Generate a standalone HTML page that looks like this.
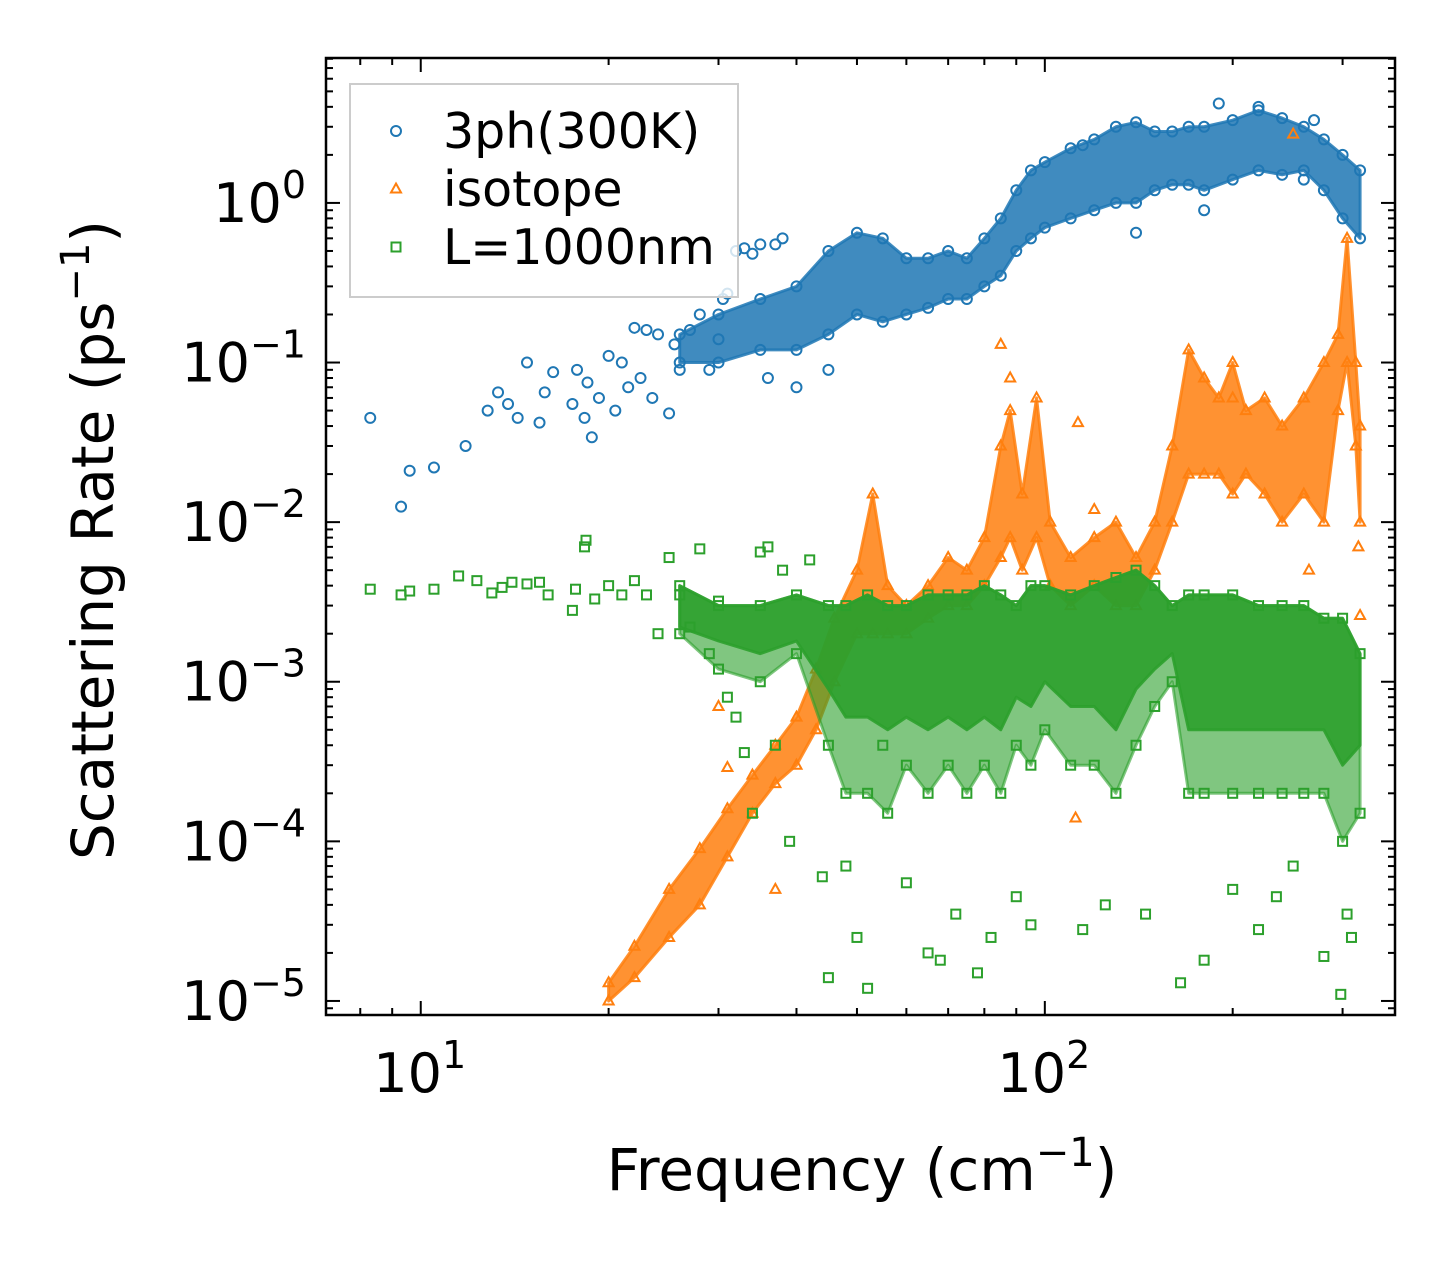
<!DOCTYPE html>
<html><head><meta charset="utf-8"><style>
html,body{margin:0;padding:0;background:#fff}
svg{display:block;font-family:"DejaVu Sans","Liberation Sans",sans-serif}
</style></head><body>
<svg id="chart" width="1455" height="1265" viewBox="0 0 1455 1265" xmlns="http://www.w3.org/2000/svg">
<rect width="1455" height="1265" fill="#fff"/>
<g id="plot"></g>
<g id="axes"></g>
</svg>
<script>
// ---- data ----
const ph3Freq=[8.3,9.3,9.6,10.5,11.8,12.8,13.3,13.8,14.3,14.8,15.5,15.8,16.3,17.5,17.8,18.3,18.5,18.8,19.3,20,20.5,21,21.5,22,22.5,23,23.5,24,25,25.5,26,27,28,29,30,30.5,31,32,33,34,35,36,37,38,40,45,115,140,180,190,220,270,260];
const ph3Rate=[0.045,0.0125,0.021,0.022,0.03,0.05,0.065,0.055,0.045,0.1,0.042,0.065,0.087,0.055,0.09,0.045,0.075,0.034,0.06,0.11,0.05,0.1,0.07,0.165,0.08,0.16,0.06,0.15,0.048,0.13,0.09,0.16,0.2,0.09,0.14,0.25,0.27,0.5,0.52,0.48,0.55,0.08,0.55,0.6,0.07,0.09,2.3,0.65,0.9,4.2,4.0,3.3,1.4];
const ph3BandFreq=[26,30,35,40,45,50,55,60,65,70,75,80,85,90,95,100,110,120,130,140,150,160,170,180,200,220,240,260,280,300,320];
const ph3BandLo=[0.1,0.1,0.12,0.12,0.15,0.2,0.18,0.2,0.22,0.25,0.25,0.3,0.35,0.5,0.6,0.7,0.8,0.9,1.0,1.0,1.2,1.3,1.3,1.2,1.4,1.6,1.5,1.6,1.2,0.8,0.6];
const ph3BandHi=[0.15,0.2,0.25,0.3,0.5,0.65,0.6,0.45,0.45,0.5,0.45,0.6,0.8,1.2,1.6,1.8,2.2,2.5,3.0,3.2,2.8,2.8,3.0,3.0,3.3,3.8,3.4,3.0,2.5,2.0,1.6];

const isoFreq=[30,31,37,85,88,113,120,112,250,320,318,265,200];
const isoRate=[7e-4,2.9e-4,5e-5,0.13,0.08,0.042,0.012,1.4e-4,2.7,2.6e-3,7e-3,5e-3,6e-2];
const isoBandFreq=[20,22,25,28,31,34,37,40,43,46,50,53,56,60,65,70,75,80,85,88,92,97,102,110,120,130,140,150,160,170,180,190,200,210,225,240,260,280,295,305,315,320];
const isoBandLo=[1e-5,1.4e-5,2.5e-5,4e-5,8e-5,1.5e-4,2.3e-4,3e-4,5e-4,1e-3,2e-3,2e-3,2e-3,2e-3,2.5e-3,3e-3,3e-3,4e-3,6e-3,8e-3,5e-3,8e-3,4e-3,3e-3,4e-3,3e-3,3e-3,5e-3,1e-2,2e-2,2e-2,2e-2,1.5e-2,2e-2,1.5e-2,1e-2,1.5e-2,1e-2,5e-2,1e-1,3e-2,1e-2];
const isoBandHi=[1.3e-5,2.2e-5,5e-5,9e-5,1.6e-4,2.6e-4,4e-4,6e-4,1.2e-3,2.5e-3,5e-3,1.5e-2,4e-3,3e-3,4e-3,6e-3,5e-3,8e-3,3e-2,5e-2,1.5e-2,6e-2,1e-2,6e-3,8e-3,1e-2,6e-3,1e-2,3e-2,1.2e-1,8e-2,6e-2,1e-1,5e-2,6e-2,4e-2,6e-2,1e-1,1.5e-1,6e-1,1e-1,4e-2];

const bndFreq=[8.3,9.3,9.6,10.5,11.5,12.3,13,13.5,14,14.8,15.5,16,17.5,17.7,18.3,18.4,19,20,21,22,23,24,25,26,27,28,29,30,31,32,33,34,35,36,37,38,39,42,44,45,48,50,52,55,60,65,68,72,78,82,90,95,115,125,145,165,180,200,220,235,250,280,298,305,310];
const bndRate=[3.8e-3,3.5e-3,3.7e-3,3.8e-3,4.6e-3,4.3e-3,3.6e-3,3.9e-3,4.2e-3,4.1e-3,4.2e-3,3.5e-3,2.8e-3,3.8e-3,7e-3,7.7e-3,3.3e-3,4e-3,3.5e-3,4.3e-3,3.5e-3,2e-3,6e-3,3.5e-3,2.2e-3,6.8e-3,1.5e-3,3.2e-3,8e-4,6e-4,3.6e-4,1.5e-4,6.5e-3,7e-3,4e-4,5e-3,1e-4,5.8e-3,6e-5,1.4e-5,7e-5,2.5e-5,1.2e-5,4e-4,5.5e-5,2e-5,1.8e-5,3.5e-5,1.5e-5,2.5e-5,4.5e-5,3e-5,2.8e-5,4e-5,3.5e-5,1.3e-5,1.8e-5,5e-5,2.8e-5,4.5e-5,7e-5,1.9e-5,1.1e-5,3.5e-5,2.5e-5];
const bndBandFreq=[26,30,35,40,45,48,52,56,60,65,70,75,80,85,90,95,100,110,120,130,140,150,160,170,180,200,220,240,260,280,300,320];
const bndBandLo=[2e-3,1.2e-3,1e-3,1.5e-3,4e-4,2e-4,2e-4,1.5e-4,3e-4,2e-4,3e-4,2e-4,3e-4,2e-4,4e-4,3e-4,5e-4,3e-4,3e-4,2e-4,4e-4,7e-4,1e-3,2e-4,2e-4,2e-4,2e-4,2e-4,2e-4,2e-4,1e-4,1.5e-4];
const bndCoreLo=[2.2e-3,1.8e-3,1.5e-3,1.8e-3,9e-4,6e-4,6e-4,5e-4,6e-4,5e-4,6e-4,5e-4,6e-4,5e-4,8e-4,7e-4,1e-3,7e-4,7e-4,5e-4,9e-4,1.2e-3,1.5e-3,5e-4,5e-4,5e-4,5e-4,5e-4,5e-4,5e-4,3e-4,4e-4];
const bndBandHi=[4e-3,3e-3,3e-3,3.5e-3,3e-3,3e-3,3.5e-3,3e-3,3e-3,3.5e-3,3.5e-3,3.5e-3,4e-3,3.5e-3,3e-3,4e-3,4e-3,3.5e-3,4e-3,4.5e-3,5e-3,4e-3,3e-3,3.5e-3,3.5e-3,3.5e-3,3e-3,3e-3,3e-3,2.5e-3,2.5e-3,1.5e-3];

const xTicks=[1,2];
const yTicks=[0,-1,-2,-3,-4,-5];
const legendLabels=["3ph(300K)","isotope","L=1000nm"];

// ---- axes ----
const L=326,R=1395,T=58,B=1015;
const xMin=Math.log10(7.05),xMax=Math.log10(364);
const yMin=-5.088,yMax=0.908;
const sx=f=>L+(Math.log10(f)-xMin)/(xMax-xMin)*(R-L);
const sy=v=>B-(Math.log10(v)-yMin)/(yMax-yMin)*(B-T);
const NS="http://www.w3.org/2000/svg";
const plot=document.getElementById('plot'),axes=document.getElementById('axes');
function mk(tag,attrs,parent){const e=document.createElementNS(NS,tag);for(const k in attrs)e.setAttribute(k,attrs[k]);parent.appendChild(e);return e;}

const clip=mk('clipPath',{id:'clipP'},document.getElementById('chart'));
mk('rect',{x:L,y:T,width:R-L,height:B-T},clip);
plot.setAttribute('clip-path','url(#clipP)');

const colors=['#1f77b4','#ff7f0e','#2ca02c'];
function marker(kind,x,y,c,g){
  let e;
  if(kind===0)e=mk('circle',{cx:x,cy:y,r:5,fill:'none',stroke:c,'stroke-width':2},g);
  else if(kind===1)e=mk('polygon',{points:`${x},${y-5.5} ${x+5},${y+3.5} ${x-5},${y+3.5}`,fill:'none',stroke:c,'stroke-width':2},g);
  else e=mk('rect',{x:x-4.5,y:y-4.5,width:9,height:9,fill:'none',stroke:c,'stroke-width':2},g);
  return e;
}
function bandPoly(bf,blo,bhi,c,op,g,name){
  let pts=bf.map((f,i)=>sx(f)+','+sy(bhi[i]));
  for(let i=bf.length-1;i>=0;i--)pts.push(sx(bf[i])+','+sy(blo[i]));
  const band=mk('polygon',{points:pts.join(' '),fill:c,'fill-opacity':op,stroke:c,'stroke-opacity':op,'stroke-width':3,'stroke-linejoin':'round'},g);
  
  
}
function series(kind,bf,blo,bhi,pf,pv,name,op,core){
  const g=mk('g',{},plot);
  
  
  const c=colors[kind];
  bandPoly(bf,blo,bhi,c,op,g,name+'-dense-cloud');
  if(core)bandPoly(bf,core,bhi,c,0.9,g,name+'-dense-core');
  bf.forEach((f,i)=>{
    const a=marker(kind,sx(f),sy(blo[i]),c,g);
    
    
    const b=marker(kind,sx(f),sy(bhi[i]),c,g);
    
    
  });
  pf.forEach((f,i)=>{
    const m=marker(kind,sx(f),sy(pv[i]),c,g);
    
    
  });
}
series(0,ph3BandFreq,ph3BandLo,ph3BandHi,ph3Freq,ph3Rate,'3ph',0.85,null);
series(1,isoBandFreq,isoBandLo,isoBandHi,isoFreq,isoRate,'isotope',0.85,null);
series(2,bndBandFreq,bndBandLo,bndBandHi,bndFreq,bndRate,'boundary',0.6,bndCoreLo);

const fr=mk('rect',{x:L,y:T,width:R-L,height:B-T,fill:'none',stroke:'#000','stroke-width':2.5},axes);


for(let d=0;d<=3;d++){for(let m=1;m<10;m++){const f=m*Math.pow(10,d);const x=sx(f);if(x<L||x>R)continue;const len=m===1?14:7;
  mk('line',{x1:x,y1:B,x2:x,y2:B-len,stroke:'#000','stroke-width':2},axes);
  mk('line',{x1:x,y1:T,x2:x,y2:T+len,stroke:'#000','stroke-width':2},axes);}}
for(let d=-6;d<=1;d++){for(let m=1;m<10;m++){const v=m*Math.pow(10,d);const y=sy(v);if(y<T||y>B)continue;const len=m===1?14:7;
  mk('line',{x1:L,y1:y,x2:L+len,y2:y,stroke:'#000','stroke-width':2},axes);
  mk('line',{x1:R,y1:y,x2:R-len,y2:y,stroke:'#000','stroke-width':2},axes);}}
function powLabel(x,y,exp,anchor,name){
  const t=mk('text',{x:x,y:y,'font-size':54,'text-anchor':anchor,fill:'#000'},axes);
  
  
  const a=mk('tspan',{},t);a.textContent='10';
  const b=mk('tspan',{'font-size':38,dy:-24},t);b.textContent=String(exp).replace('-','\u2212');
}
xTicks.forEach(e=>powLabel(sx(Math.pow(10,e))-1,1092,e,'middle','x-tick-label'));
yTicks.forEach(e=>powLabel(306,sy(Math.pow(10,e))+19,e,'end','y-tick-label'));
const xt=mk('text',{x:862,y:1190,'font-size':58,'text-anchor':'middle'},axes);


xt.innerHTML='Frequency (cm<tspan font-size="40" dy="-24">\u22121</tspan><tspan dy="24">)</tspan>';
const yt=mk('text',{x:0,y:0,'font-size':58,'text-anchor':'middle',transform:'translate(113,540) rotate(-90)'},axes);


yt.innerHTML='Scattering Rate (ps<tspan font-size="40" dy="-24">\u22121</tspan><tspan dy="24">)</tspan>';
const lg=mk('g',{},axes);


mk('rect',{x:350,y:84,width:388,height:213,fill:'#fff','fill-opacity':0.8,stroke:'#ccc','stroke-width':2},lg);
legendLabels.forEach((s,i)=>{
  const y=131+i*58;
  const m=marker(i,396,y,colors[i],lg);
  
  
  const t=mk('text',{x:443,y:y+17,'font-size':49,fill:'#000'},lg);
  t.textContent=s;
  
  
});
</script>
</body></html>
